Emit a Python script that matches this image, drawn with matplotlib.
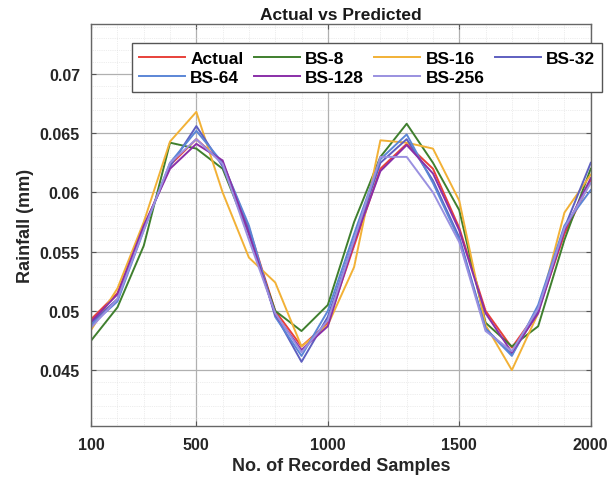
import numpy as np
import matplotlib
matplotlib.use("Agg")
import matplotlib.pyplot as plt
from matplotlib.ticker import MultipleLocator, FixedLocator

plt.rcParams['font.family'] = ['Liberation Sans', 'DejaVu Sans']

samples = np.arange(100, 2001, 100)

actual = [0.0493, 0.0515, 0.0570, 0.0623, 0.0645, 0.0625, 0.0570, 0.0500, 0.0470, 0.0490,
          0.0555, 0.0620, 0.0641, 0.0620, 0.0570, 0.0500, 0.0469, 0.0500, 0.0565, 0.0610]
bs8 = [0.0475, 0.0503, 0.0555, 0.0642, 0.0637, 0.0620, 0.0565, 0.0500, 0.0483, 0.0505,
       0.0575, 0.0630, 0.0658, 0.0625, 0.0585, 0.0490, 0.0470, 0.0487, 0.0560, 0.0620]
bs16 = [0.0484, 0.0519, 0.0575, 0.0643, 0.0668, 0.0600, 0.0545, 0.0524, 0.0470, 0.0488,
        0.0537, 0.0644, 0.0642, 0.0637, 0.0593, 0.0488, 0.0450, 0.0498, 0.0583, 0.0615]
bs32 = [0.0490, 0.0510, 0.0570, 0.0622, 0.0656, 0.0622, 0.0568, 0.0497, 0.0457, 0.0495,
        0.0560, 0.0625, 0.0645, 0.0610, 0.0562, 0.0485, 0.0463, 0.0500, 0.0570, 0.0625]
bs64 = [0.0488, 0.0508, 0.0568, 0.0625, 0.0652, 0.0625, 0.0572, 0.0495, 0.0462, 0.0500,
        0.0565, 0.0628, 0.0649, 0.0608, 0.0560, 0.0485, 0.0462, 0.0505, 0.0572, 0.0602]
bs128 = [0.0491, 0.0514, 0.0572, 0.0620, 0.0641, 0.0627, 0.0565, 0.0497, 0.0467, 0.0487,
         0.0558, 0.0618, 0.0640, 0.0616, 0.0568, 0.0498, 0.0465, 0.0498, 0.0568, 0.0612]
bs256 = [0.0486, 0.0510, 0.0568, 0.0625, 0.0645, 0.0624, 0.0560, 0.0498, 0.0465, 0.0492,
         0.0560, 0.0630, 0.0630, 0.0600, 0.0558, 0.0483, 0.0466, 0.0502, 0.0570, 0.0608]

labels = ['Actual', 'BS-8', 'BS-16', 'BS-32', 'BS-64', 'BS-128', 'BS-256']
series = [actual, bs8, bs16, bs32, bs64, bs128, bs256]
colors = ['#e8413a', '#3f7f2e', '#f2b136', '#5e5fc0', '#5b86d6', '#8a2fa8', '#9a90e0']

fig = plt.figure(figsize=(6.16, 4.85), dpi=100)
ax = fig.add_axes([0.148, 0.120, 0.811, 0.828])

lines = []
for y, lab, c in zip(series, labels, colors):
    ln, = ax.plot(samples, y, color=c, linewidth=1.4, label=lab)
    lines.append(ln)

ax.set_xlim(100, 2000)
ax.set_ylim(0.0403, 0.0742)
ax.xaxis.set_major_locator(FixedLocator([100, 500, 1000, 1500, 2000]))
ax.xaxis.set_minor_locator(MultipleLocator(100))
ax.yaxis.set_major_locator(FixedLocator([0.045, 0.05, 0.055, 0.06, 0.065, 0.07]))
ax.yaxis.set_minor_locator(MultipleLocator(0.001))
ax.set_yticklabels(['0.045', '0.05', '0.055', '0.06', '0.065', '0.07'])

ax.grid(which='major', color='#b0b0b0', linewidth=0.9)
ax.grid(which='minor', color='#dcdcdc', linewidth=0.5, linestyle=':')
ax.set_axisbelow(True)
ax.tick_params(which='both', direction='in', top=True, right=True, colors='#555555',
               labelcolor='#262626', labelsize=11.5, pad=8)
ax.tick_params(which='minor', length=0)
for lab in ax.get_xticklabels() + ax.get_yticklabels():
    lab.set_fontweight('bold')
for s in ax.spines.values():
    s.set_color('#666666')
    s.set_linewidth(1.0)

ax.set_xlabel('No. of Recorded Samples', fontsize=13, fontweight='bold', color='#262626')
ax.set_ylabel('Rainfall (mm)', fontsize=13, fontweight='bold', color='#262626')
ax.set_title('Actual vs Predicted', fontsize=12.5, fontweight='bold', color='#1a1a1a', pad=4)

# legend fills by column, so reorder to get row-wise layout
order = [0, 4, 1, 5, 2, 6, 3]
ax.legend([lines[i] for i in order], [labels[i] for i in order],
          loc='upper left', bbox_to_anchor=(0.082, 0.952), ncol=4,
          prop={'weight': 'bold', 'size': 12.5}, frameon=True, fancybox=False,
          edgecolor='#555555', framealpha=1.0, handlelength=2.65, handletextpad=0.3,
          columnspacing=0.6, borderpad=0.4, labelspacing=0.25, borderaxespad=0)

fig.savefig('out.png', dpi=100)
